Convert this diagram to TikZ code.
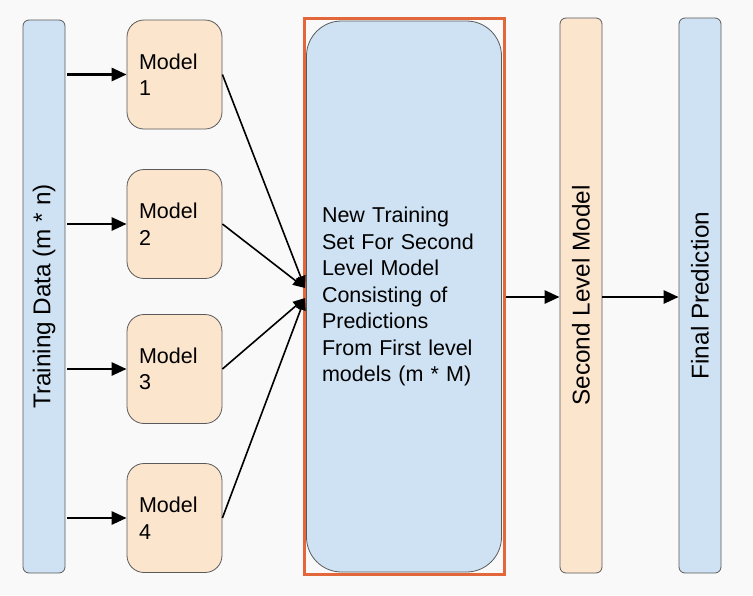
\documentclass[tikz,border=0pt]{standalone}
\usepackage{fontspec}
\setmainfont{Liberation Sans}
\usetikzlibrary{arrows.meta}
\definecolor{lblue}{HTML}{CFE2F3}
\definecolor{lorange}{HTML}{FCE5CD}
\definecolor{frame}{HTML}{E2673A}
\definecolor{bg}{HTML}{F9F9F9}
\definecolor{edge}{HTML}{5A5A5A}
\begin{document}
\begin{tikzpicture}[x=1pt,y=-1pt,
  txt/.style={font=\fontsize{21.5}{26.5}\selectfont},
  rtxt/.style={font=\fontsize{24.3}{28}\selectfont,rotate=90},
  bar/.style={draw=edge,line width=0.8pt,rounded corners=6pt,inner sep=0pt},
  modelbox/.style={draw=edge,line width=0.8pt,fill=lorange,rounded corners=17pt,
    minimum width=95pt,minimum height=109pt,text width=71pt,align=left,inner xsep=12pt,txt},
  thick arrow/.style={line width=2.8pt,-{Triangle[length=15pt,width=13pt]}},
  thin arrow/.style={line width=1.6pt,-{Triangle[length=12pt,width=10pt]}}]
\useasboundingbox[fill=bg] (0,0) rectangle (753,595);
% training data bar
\node[bar,fill=lblue,minimum width=42pt,minimum height=553pt] (td) at (44,296.5) {};
\node[rtxt] (tdl) at (td.center) {Training Data (m * n)};
% models
\node[modelbox] (m1) at (174.5,74.5) {Model\\1};
\node[modelbox] (m2) at (174.5,224) {Model\\2};
\node[modelbox] (m3) at (174.5,369) {Model\\3};
\node[modelbox] (m4) at (174.5,518) {Model\\4};
% central box
\node[draw=frame,line width=2.6pt,minimum width=200pt,minimum height=556pt,inner sep=0pt] (fr) at (404.5,296.5) {};
\node[draw=edge,line width=0.8pt,fill=lblue,rounded corners=35pt,minimum width=195pt,minimum height=551pt,
  text width=164pt,align=left,inner xsep=15.5pt,txt] (nt) at (404,296.5)
  {New Training\\Set For Second\\Level Model\\Consisting of\\Predictions\\From First level\\models (m * M)};
% second level model
\node[bar,fill=lorange,minimum width=42pt,minimum height=555pt] (sl) at (581,295.5) {};
\node[rtxt] (sll) at (sl.center) {Second Level Model};
% final prediction
\node[bar,fill=lblue,minimum width=42pt,minimum height=555pt] (fp) at (700,295.5) {};
\node[rtxt] (fpl) at (fp.center) {Final Prediction};
% arrows from training data
\foreach \m in {m1,m2,m3,m4}
  \draw[thick arrow,shorten <=2pt] (td.east |- \m.west) -- (\m.west);
% arrows into central box
\coordinate (c1) at (305,288);
\coordinate (c2) at (305,298);
\draw[thin arrow] (m1.east) -- (c1);
\draw[thin arrow] (m2.east) -- (c1);
\draw[thin arrow] (m3.east) -- (c2);
\draw[thin arrow] (m4.east) -- (c2);
% arrows to the right
\draw[thick arrow] (fr.east |- 0,297) -- (sl.west |- 0,297);
\draw[thick arrow] (sl.east |- 0,297) -- (fp.west |- 0,297);
\end{tikzpicture}
\end{document}
